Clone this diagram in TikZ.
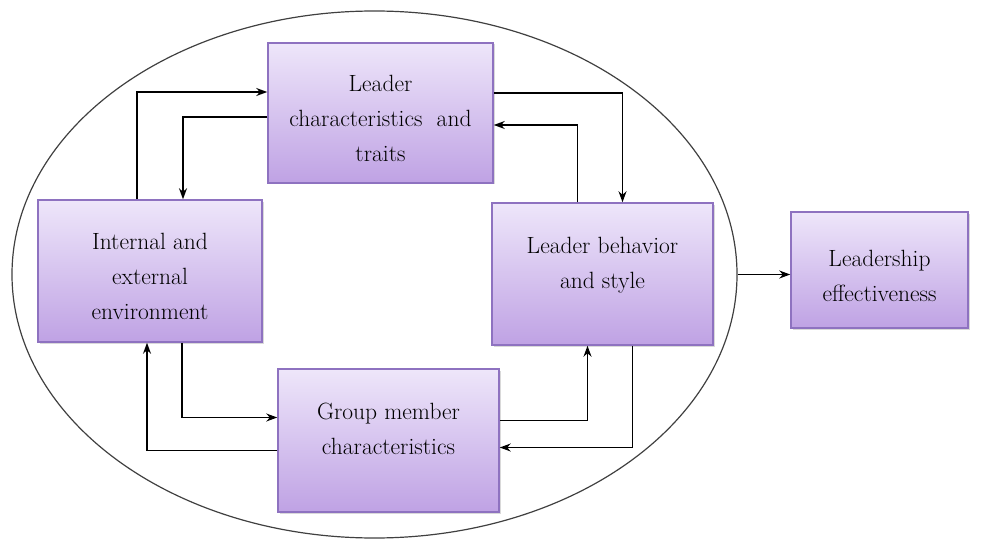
\documentclass[tikz,border=0pt]{standalone}
\usetikzlibrary{arrows.meta,shapes.geometric,calc,shadows}
\definecolor{boxtop}{HTML}{EEE6FA}
\definecolor{boxbottom}{HTML}{BFA2E4}
\definecolor{boxline}{HTML}{8E72C0}
\newcommand{\toplift}{\rule{0pt}{28pt}}

\begin{document}
\begin{tikzpicture}[x=1pt,y=-1pt,->,>={Stealth[length=11pt,width=8pt]},line width=1.3pt,
    factor/.style={draw=boxline,line width=1.5pt,top color=boxtop,bottom color=boxbottom,
      align=center,inner sep=0pt,font=\fontsize{23.5}{35}\selectfont,text=black,
      drop shadow={shadow xshift=1.5pt,shadow yshift=-1.5pt,opacity=0.3}}]

    \useasboundingbox (0,0) rectangle (987,540);
    \node[draw=black!75,line width=1.2pt,ellipse,minimum width=725pt,minimum height=527pt](ring) at (374.5,274.5){};

    \node[factor,minimum width=225pt,minimum height=140pt](traits) at (380.5,113){\toplift Leader\\characteristics\ \ and\\traits};
    \node[factor,minimum width=221pt,minimum height=142pt](style) at (602.5,274){\toplift Leader behavior\\and style\\\mbox{}};
    \node[factor,minimum width=224pt,minimum height=142pt](env) at (150,271){\toplift Internal and\\external\\environment};
    \node[factor,minimum width=221pt,minimum height=143pt](group) at (388.5,440.5){\toplift Group member\\characteristics\\\mbox{}};
    \node[factor,minimum width=177pt,minimum height=116pt](outcome) at (879.5,270){\toplift Leadership\\effectiveness};

    \draw ($(env.north)+(-13,0)$) |- ($(traits.west)+(0,-21)$);
    \draw ($(traits.west)+(0,4)$) -| ($(env.north)+(33,0)$);
    \draw ($(traits.east)+(0,-20)$) -| ($(style.north)+(20,0)$);
    \draw ($(style.north)+(-25,0)$) |- ($(traits.east)+(0,12)$);
    \draw ($(style.south)+(30,0)$) |- ($(group.east)+(0,7)$);
    \draw ($(group.east)+(0,-20)$) -| ($(style.south)+(-15,0)$);
    \draw ($(env.south)+(32,0)$) |- ($(group.west)+(0,-23)$);
    \draw ($(group.west)+(0,10)$) -| ($(env.south)+(-3,0)$);
    \draw (ring.east) -- (ring.east -| outcome.west);
\end{tikzpicture}
\end{document}
